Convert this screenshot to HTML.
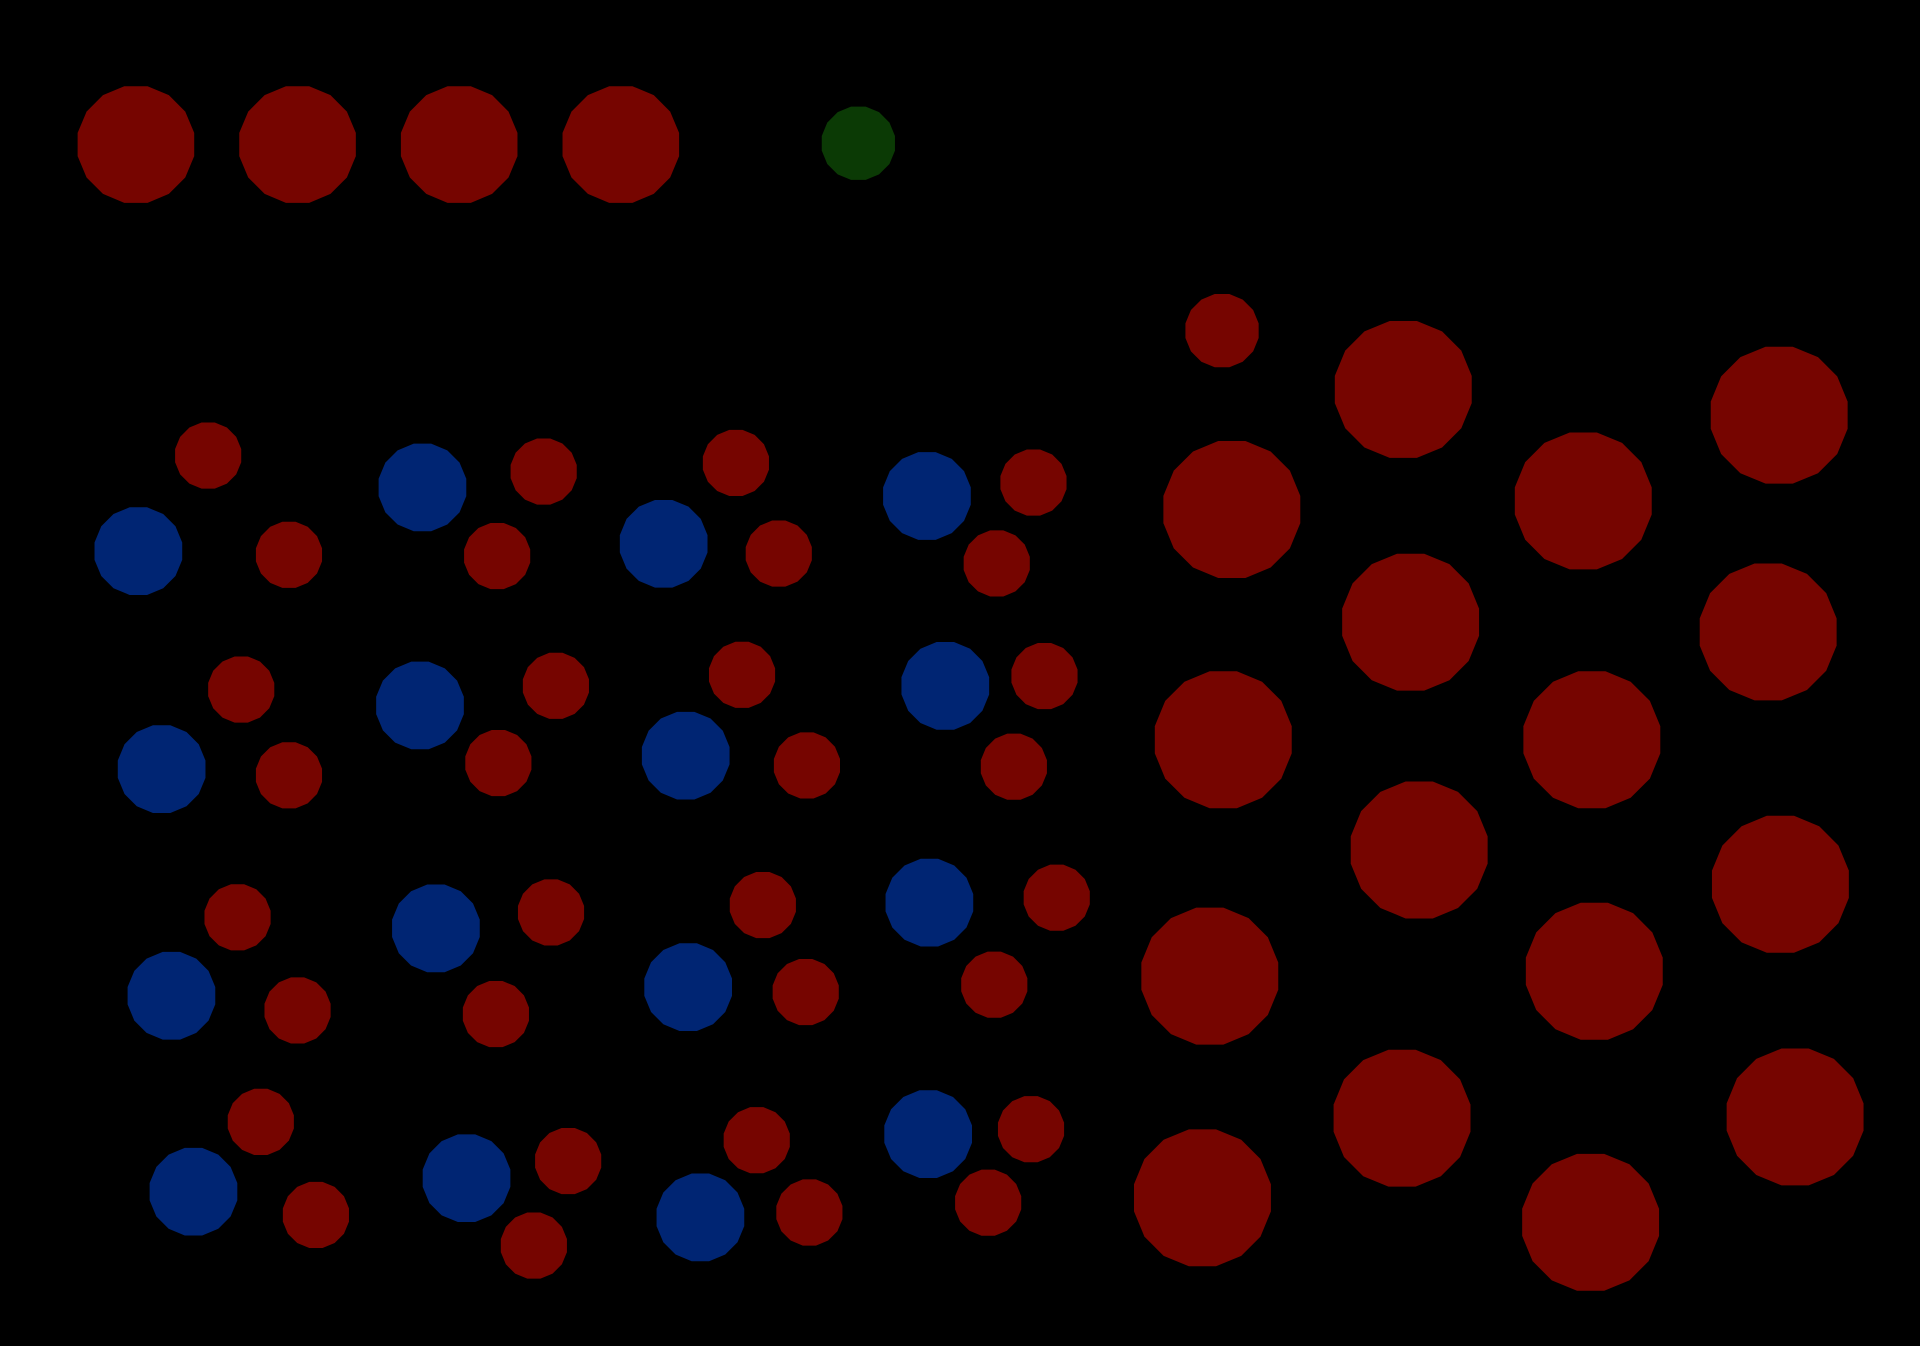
<!DOCTYPE html>
<html><head><meta charset="utf-8"><title>Molecules</title>
<style>html,body{margin:0;padding:0;background:#000;width:1920px;height:1346px;overflow:hidden}svg{display:block}</style>
</head><body>
<svg id="chart" width="1920" height="1346" viewBox="0 0 1568 1099" preserveAspectRatio="none" xmlns="http://www.w3.org/2000/svg">
<rect width="1568" height="1099" fill="#000"/>
</svg>
<script>
// top row
const topX = [111,243,375,507,701];
const topY = [118,118,118,118,117];
const topR = [48.5,48.5,48.5,48.5,30.5];
const topKind = ['r','r','r','r','g'];
// molecule grid
const molX = [170,113,236,345,444,406,601,542,636,757,844,814,
  197,132,236,343,454,407,606,560,659,772,853,828,
  194,140,243,356,450,405,623,562,658,759,863,812,
  213,158,258,381,464,436,618,572,661,758,842,807];
const molY = [372,450,453,398,385,454,378,444,452,405,394,460,
  563,628,633,576,560,623,551,617,625,560,552,626,
  749,813,825,758,745,828,739,806,810,737,733,804,
  916,973,992,962,948,1017,931,994,990,926,922,982];
const molKind = ['r','b','r','b','r','r','r','b','r','b','r','r',
  'r','b','r','b','r','r','r','b','r','b','r','r',
  'r','b','r','b','r','r','r','b','r','b','r','r',
  'r','b','r','b','r','r','r','b','r','b','r','r'];
// right cluster
const bigX = [998,1006,999,988,982,1146,1152,1159,1145,1293,1300,1302,1299,1453,1444,1454,1466];
const bigY = [270,416,604,797,978,318,508,694,913,409,604,793,998,339,516,722,912];
const bigR = [30.5,57,57,57,57,57,57,57,57,57,57,57,57,57,57,57,57];

const colors = {r:'#760500', b:'#002573', g:'#0b3a05'};
const svg = document.getElementById('chart');
const NS = 'http://www.w3.org/2000/svg';
function poly(cx, cy, r, kind, name){
  const pts = [];
  for(let i=0;i<16;i++){
    const a = (i*22.5+11.25)*Math.PI/180;
    pts.push((cx+r*Math.cos(a)).toFixed(1)+','+(cy+r*Math.sin(a)).toFixed(1));
  }
  const p = document.createElementNS(NS,'polygon');
  p.setAttribute('points', pts.join(' '));
  p.setAttribute('fill', colors[kind]);
  
  
  svg.appendChild(p);
}
topX.forEach((x,i)=>poly(x, topY[i], topR[i], topKind[i], 'top-atom-'+i));
molX.forEach((x,i)=>poly(x, molY[i], molKind[i]==='b'?36.5:27.5, molKind[i], (molKind[i]==='b'?'blue-atom-':'red-atom-')+i));
bigX.forEach((x,i)=>poly(x, bigY[i], bigR[i], 'r', 'big-atom-'+i));
</script>
</body></html>
